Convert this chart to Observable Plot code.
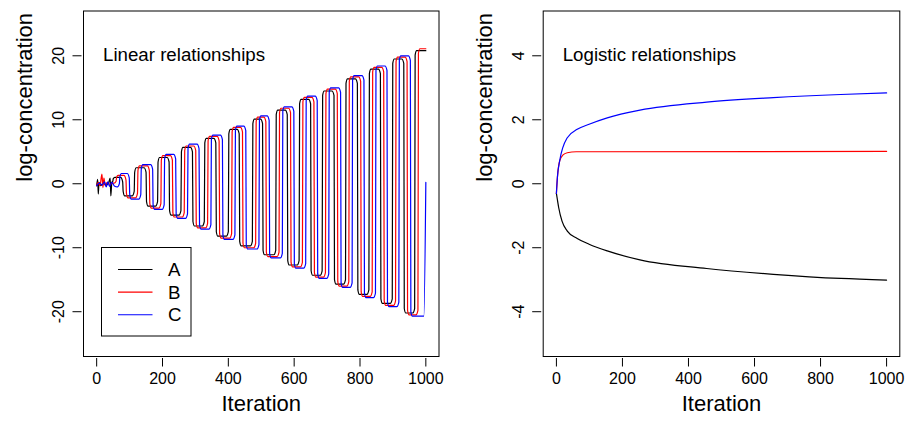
<!DOCTYPE html>
<html>
<head>
<meta charset="utf-8">
<script src="https://cdn.jsdelivr.net/npm/d3@7"></script>
<script src="https://cdn.jsdelivr.net/npm/@observablehq/plot@0.6"></script>
<style>
  html, body { margin: 0; padding: 0; background: #fff; }
  #wrap { position: relative; width: 907px; height: 422px; font-family: "Liberation Sans", Arial, sans-serif; }
  #wrap > div { position: absolute; top: 0; }
</style>
</head>
<body>
<div id="wrap"><div id="left" style="left:0"></div><div id="right" style="left:453px"></div></div>
<script>
// ---------- data ----------
const seriesNames = ["A", "B", "C"];
const seriesColors = ["black", "red", "blue"];
const xTicks = [0, 200, 400, 600, 800, 1000];
const yTicksLinear = [-20, -10, 0, 10, 20];
const yTicksLogistic = [-4, -2, 0, 2, 4];

// Linear panel: early irregular part [iteration, value]
const startA = [[0,-0.3],[3,0.7],[5,-1.6],[7,0.2],[12,-0.3],[20,0.1],[28,-0.2],[36,0.1],[41,0.9],[43,-1.9],[46,0.2]];
const startB = [[0,-0.3],[4,0.2],[10,-0.3],[16,1.5],[19,-0.6],[22,0.9],[26,-0.3],[32,0.2],[40,-0.1],[50,0.1]];
const startC = [[0,-0.3],[8,0.1],[16,-0.2],[24,0.3],[29,-0.5],[34,0.3],[39,-0.4],[46,0.2],[55,-0.4],[62,-0.5]];
// iterations where each series switches up / down
const risesA = [49, 114, 185, 256, 327, 400, 473, 544, 615, 685, 756, 827, 898, 966];
const fallsA = [79, 150, 220, 291, 362, 433, 504, 579, 650, 721, 792, 862, 933];
const risesB = [59, 124, 195, 266, 337, 410, 483, 554, 625, 695, 766, 837, 908, 976];
const fallsB = [89, 160, 230, 301, 372, 443, 514, 589, 660, 731, 802, 872, 943];
const risesC = [69, 134, 205, 276, 347, 420, 493, 564, 635, 705, 776, 847, 918];
const fallsC = [99, 170, 240, 311, 382, 453, 524, 599, 670, 741, 812, 882, 953];
// plateau levels (high after a rise, low after a fall)
const highA = [1.0, 2.5, 4.1, 5.7, 7.1, 8.5, 10.1, 11.5, 13.2, 14.5, 16.4, 17.9, 19.5, 20.8];
const lowA  = [-1.9, -3.5, -4.9, -6.6, -8.2, -9.7, -11.1, -12.7, -14.3, -15.7, -17.3, -18.7, -20.2];
const highB = [1.3, 2.8, 4.4, 5.9, 7.4, 8.8, 10.4, 11.8, 13.5, 14.8, 16.7, 18.2, 19.8, 21.1];
const lowB  = [-2.2, -3.8, -5.2, -6.9, -8.5, -10.0, -11.4, -13.0, -14.6, -16.0, -17.6, -19.0, -20.5];
const highC = [1.6, 3.0, 4.6, 6.2, 7.6, 9.0, 10.6, 12.0, 13.7, 15.0, 16.9, 18.4, 20.0];
const lowC  = [-2.4, -4.0, -5.4, -7.1, -8.7, -10.2, -11.6, -13.2, -14.8, -16.2, -17.8, -19.2, -20.7];
// final points
const endA = [[1000, 20.8]];
const endB = [[1000, 21.1]];
const endC = [[994, -20.7], [1000, 0.2]];

// Logistic panel
const logA = [[0,-0.3],[3,-0.5],[7,-0.75],[17,-1.17],[33,-1.48],[63,-1.71],[99,-1.89],[154,-2.10],[253,-2.38],[455,-2.65],[657,-2.83],[861,-2.96],[1000,-3.01]];
const logB = [[0,-0.3],[3,0.2],[10,0.72],[20,0.9],[33,0.97],[60,1.0],[1000,1.01]];
const logC = [[0,-0.3],[3,0.2],[10,0.72],[33,1.44],[63,1.70],[99,1.86],[154,2.06],[253,2.30],[455,2.55],[657,2.69],[861,2.79],[1000,2.84]];

// ---------- build tables ----------
// drawing geometry of a switch (rounded corners), in iterations / log units
const CORNER_W = 6, CORNER_H = 0.7, EDGE_W = 1.5;
function wave(name, start, rises, highs, falls, lows, end) {
  const pts = start.map(([t, v]) => ({t, v}));
  let prev = start[start.length - 1][1];
  const sw = (s, to) => {
    const dir = Math.sign(to - prev);
    const c = Math.min(CORNER_H, 0.25 * Math.abs(to - prev));
    const lastT = pts[pts.length - 1].t;
    if (s - CORNER_W > lastT) pts.push({t: s - CORNER_W, v: prev});
    pts.push({t: s, v: prev + c * dir});
    pts.push({t: s + EDGE_W, v: to - c * dir});
    pts.push({t: s + CORNER_W, v: to});
    prev = to;
  };
  for (let k = 0; k < rises.length; k++) {
    sw(rises[k], highs[k]);
    if (k < falls.length) sw(falls[k], lows[k]);
  }
  end.forEach(([t, v]) => {
    if (t > pts[pts.length - 1].t) pts.push({t, v});
  });
  return pts.map(p => ({...p, s: name}));
}
const linearData = [
  ...wave("A", startA, risesA, highA, fallsA, lowA, endA),
  ...wave("B", startB, risesB, highB, fallsB, lowB, endB),
  ...wave("C", startC, risesC, highC, fallsC, lowC, endC)
];
const logisticData = [
  ...logA.map(([t, v]) => ({t, v, s: "A"})),
  ...logB.map(([t, v]) => ({t, v, s: "B"})),
  ...logC.map(([t, v]) => ({t, v, s: "C"}))
];

const FONT = "Liberation Sans, Arial, Helvetica, sans-serif";
function panel({width, ml, mr, ydom, yticks, title, data}) {
  return Plot.plot({
    width, height: 422,
    marginLeft: ml, marginRight: mr, marginTop: 10.5, marginBottom: 66,
    style: {fontFamily: FONT, background: "white", color: "black", overflow: "visible"},
    x: {domain: [-40, 1040], axis: null},
    y: {domain: ydom, axis: null},
    color: {domain: seriesNames, range: seriesColors},
    marks: [
      Plot.line(data, {x: "t", y: "v", z: "s", stroke: "s", strokeWidth: 1.2, curve: "monotone-x"}),
      Plot.frame({stroke: "black", strokeWidth: 1}),
      Plot.axisX(xTicks, {tickSize: 8.5, dy: 2, tickPadding: 5.5, fontSize: 16, tickFormat: d => String(d), label: null}),
      Plot.axisY(yticks, {tickSize: 9, dx: -1.5, tickFormat: () => "", label: null}),
      Plot.text(yticks, {y: d => d, text: d => String(d), frameAnchor: "left", dx: -24.5, rotate: -90, fontSize: 16, textAnchor: "middle"}),
      Plot.text(["Iteration"], {text: d => d, frameAnchor: "bottom", dy: 54, fontSize: 22}),
      Plot.text(["log-concentration"], {text: d => d, frameAnchor: "left", dx: -58.5, dy: -2, rotate: -90, fontSize: 22}),
      Plot.text([title], {text: d => d, frameAnchor: "top-left", dx: 19.5, dy: 50.2, lineAnchor: "bottom", textAnchor: "start", fontSize: 18.7})
    ]
  });
}

document.getElementById("left").append(panel({
  width: 453, ml: 83, mr: 14.5, ydom: [-27, 27], yticks: yTicksLinear,
  title: "Linear relationships", data: linearData
}));
document.getElementById("right").append(panel({
  width: 454, ml: 89.7, mr: 7.7, ydom: [-5.4, 5.4], yticks: yTicksLogistic,
  title: "Logistic relationships", data: logisticData
}));

// legend (left panel)
const lg = d3.select("#wrap").append("svg")
  .attr("width", 92).attr("height", 91)
  .style("position", "absolute").style("left", "101px").style("top", "247px")
  .style("font-family", FONT);
lg.append("rect").attr("x", 0.5).attr("y", 0.5).attr("width", 89.5).attr("height", 88.5)
  .attr("fill", "white").attr("stroke", "black");
seriesNames.forEach((n, i) => {
  const y = 22.5 + i * 22.6;
  lg.append("line").attr("x1", 17).attr("x2", 51.5).attr("y1", y).attr("y2", y)
    .attr("stroke", seriesColors[i]).attr("stroke-width", 1.1);
  lg.append("text").attr("x", 67).attr("y", y).attr("dy", "0.35em")
    .attr("font-size", 18.7).attr("fill", "black").text(n);
});
</script>
</body>
</html>
